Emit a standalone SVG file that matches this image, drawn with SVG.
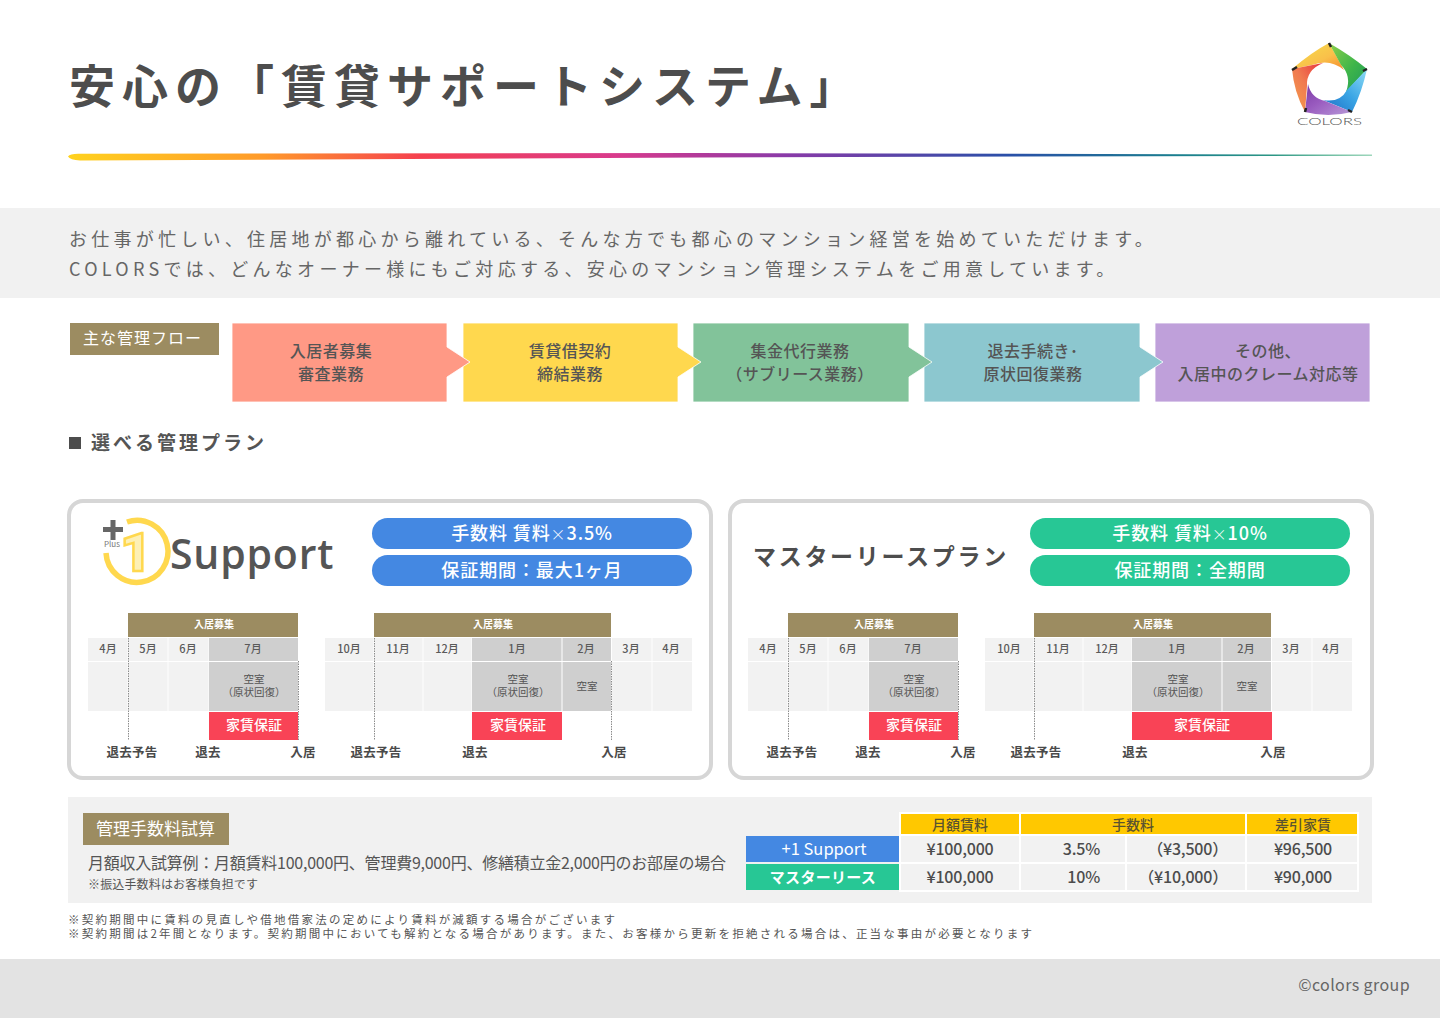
<svg xmlns="http://www.w3.org/2000/svg" width="1440" height="1018" viewBox="0 0 1440 1018">
<style>
text{font-family:"Noto Sans CJK JP","Noto Sans",sans-serif}
.c{text-anchor:middle}
.r{text-anchor:end}
.brown{fill:#9c8c61}
.cell{fill:#f2f2f2}
.dark{fill:#cfcfcf}
.red{fill:#f94356}
.mon{font-size:11px;font-weight:500;fill:#5a5a5a;text-anchor:middle}
.rec{font-size:10px;font-weight:700;fill:#fff;text-anchor:middle}
.vac{font-size:10.5px;fill:#555;text-anchor:middle}
.gua{font-size:14px;font-weight:500;fill:#fff;text-anchor:middle}
.ev{font-size:12.5px;font-weight:700;fill:#4a4a4a;text-anchor:middle;letter-spacing:.2px}
.vl{stroke:#8c8c8c;stroke-width:1;stroke-dasharray:1.5 1;fill:none}
.pill{font-size:18px;font-weight:500;fill:#fff;text-anchor:middle;letter-spacing:.9px}
.x{font-size:15px;font-weight:300}
.flow{font-size:16px;font-weight:500;fill:#555;text-anchor:middle;letter-spacing:.5px}
.fb{stroke:#fff;stroke-width:.8}
.card{fill:#fff;stroke:#d6d6d6;stroke-width:4}
.th{font-size:14px;font-weight:500;fill:#5a5330;text-anchor:middle}
.td{font-size:16px;font-weight:500;fill:#4c4c4c;letter-spacing:-.2px}
.note{font-size:11.5px;fill:#555;letter-spacing:2.24px}
</style>
<defs>
<linearGradient id="rainbow" x1="68" y1="0" x2="1372" y2="0" gradientUnits="userSpaceOnUse">
<stop offset="0" stop-color="#ffd21e"/><stop offset=".15" stop-color="#ff9a2a"/><stop offset=".27" stop-color="#f5404f"/><stop offset=".42" stop-color="#d93a8c"/><stop offset=".55" stop-color="#8a3aa8"/><stop offset=".72" stop-color="#2a4fa8"/><stop offset=".85" stop-color="#1b7f8f"/><stop offset="1" stop-color="#3fae7a"/>
</linearGradient>
<linearGradient id="bY" x1="0" y1="0" x2="1" y2="1"><stop offset="0" stop-color="#f6e04a"/><stop offset=".6" stop-color="#f9c04a"/><stop offset="1" stop-color="#f58a2c"/></linearGradient>
<linearGradient id="bG" x1="0" y1="0" x2="1" y2="1"><stop offset="0" stop-color="#8ccf4a"/><stop offset=".55" stop-color="#3eb54a"/><stop offset="1" stop-color="#1f9a5a"/></linearGradient>
<linearGradient id="bB" x1="1" y1="0" x2="0" y2="1"><stop offset="0" stop-color="#8fdcf5"/><stop offset=".5" stop-color="#3aa5e5"/><stop offset="1" stop-color="#1c6cc4"/></linearGradient>
<linearGradient id="bP" x1="1" y1="1" x2="0" y2="0"><stop offset="0" stop-color="#b89ad8"/><stop offset=".55" stop-color="#9a5cc0"/><stop offset="1" stop-color="#7c3aa5"/></linearGradient>
<linearGradient id="bR" x1="0" y1="1" x2="1" y2="0"><stop offset="0" stop-color="#f5a04a"/><stop offset=".5" stop-color="#f07a50"/><stop offset="1" stop-color="#e8323c"/></linearGradient>
</defs>
<rect width="1440" height="1018" fill="#fff"/>

<g id="title">
<text x="69" y="103" font-size="46" font-weight="700" fill="#4d4d4d" letter-spacing="7">安心の「賃貸サポートシステム」</text>
<path d="M68 156.500 Q70 153.500 80 153.800 L700 153 L1372 154.800 V155.600 L700 157.500 L80 160.500 Q70 160 68 156.500Z" fill="url(#rainbow)"/>
</g>

<g id="logo">
<path d="M1292 69 Q1312 52 1329 43 L1344 70 Q1330 58 1312 65Z" fill="url(#bY)"/>
<path d="M1329 43 Q1350 55 1367 69 L1346 92 Q1352 76 1341 65Z" fill="url(#bG)"/>
<path d="M1367 69 Q1362 92 1352 112 L1323 100 Q1340 103 1347 90Z" fill="url(#bB)"/>
<path d="M1352 112 Q1328 118 1305 112 L1308 84 Q1311 98 1325 101Z" fill="url(#bP)"/>
<path d="M1305 112 Q1294 92 1292 69 L1323 63 Q1306 70 1307 86Z" fill="url(#bR)"/>
<path d="M1292 70 L1297 67M1329 43 L1331 47M1367 69 L1363 71M1352 112 L1348 110M1305 112 L1306 108" stroke="#222" stroke-width="2.500"/>
<text x="1297" y="125" font-size="9" font-weight="300" fill="#555" textLength="65" lengthAdjust="spacingAndGlyphs" style="font-family:Lato,sans-serif">COLORS</text>
</g>

<g id="intro">
<rect y="208" width="1440" height="90" fill="#f1f1f1"/>
<text x="69" y="245.500" font-size="18" fill="#666" letter-spacing="4.25">お仕事が忙しい、住居地が都心から離れている、そんな方でも都心のマンション経営を始めていただけます。</text>
<text x="69" y="276" font-size="18" fill="#666" letter-spacing="4.28">COLORSでは、どんなオーナー様にもご対応する、安心のマンション管理システムをご用意しています。</text>
</g>

<g id="flow-label">
<rect class="brown" x="70" y="323" width="149" height="32"/>
<text x="83" y="344" font-size="16" fill="#fff" letter-spacing="1">主な管理フロー</text>
</g>
<g id="flow-5"><rect class="fb" x="1155" y="323" width="215" height="79" fill="#bfa0da"/><text class="flow" x="1268" y="357">その他、</text><text class="flow" x="1268" y="380">入居中のクレーム対応等</text></g>
<g id="flow-4"><path class="fb" d="M924 323H1140V347L1163 362L1140 377V402H924Z" fill="#8cc7cf"/><text class="flow" x="1033" y="357">退去手続き･</text><text class="flow" x="1033" y="380">原状回復業務</text></g>
<g id="flow-3"><path class="fb" d="M693 323H909V347L932 362L909 377V402H693Z" fill="#82c39a"/><text class="flow" x="800" y="357">集金代行業務</text><text class="flow" x="800" y="380">（サブリース業務）</text></g>
<g id="flow-2"><path class="fb" d="M463 323H678V347L701 362L678 377V402H463Z" fill="#ffd84e"/><text class="flow" x="570" y="357">賃貸借契約</text><text class="flow" x="570" y="380">締結業務</text></g>
<g id="flow-1"><path class="fb" d="M232 323H447V347L470 362L447 377V402H232Z" fill="#ff9985"/><text class="flow" x="331" y="357">入居者募集</text><text class="flow" x="331" y="380">審査業務</text></g>

<g id="plans-heading">
<rect x="69" y="437" width="12" height="12" fill="#4d4d4d"/>
<text x="91" y="450" font-size="19" font-weight="700" fill="#555" letter-spacing="3">選べる管理プラン</text>
</g>

<g id="plan-plus1">
<rect class="card" x="69" y="501" width="642" height="277" rx="14"/>
<path d="M127 522 A31 31 0 1 1 106 553" fill="none" stroke="#ffd84e" stroke-width="5.500"/>
<text x="136" y="571" class="c" font-size="54" font-weight="900" fill="#fdf0b5" stroke="#ffd84e" stroke-width="2.500" style="font-family:Roboto,sans-serif">1</text>
<rect x="103" y="527" width="20" height="5" fill="#666"/><rect x="110.500" y="520" width="5" height="20" fill="#666"/>
<text x="112" y="547" class="c" font-size="8" fill="#777">Plus</text>
<text x="170" y="569" font-size="41" font-weight="600" fill="#555" letter-spacing=".8" style="font-family:'Open Sans',sans-serif">Support</text>
<rect x="372" y="518" width="320" height="31" rx="15.500" fill="#4488e2"/>
<rect x="372" y="555" width="320" height="31" rx="15.500" fill="#4488e2"/>
<text class="pill" x="532" y="540">手数料 賃料<tspan class="x">×</tspan>3.5%</text>
<text class="pill" x="532" y="577">保証期間：最大1ヶ月</text>

<rect class="brown" x="128" y="613" width="170" height="24"/><text class="rec" x="214" y="628">入居募集</text>
<rect class="cell" x="88" y="638" width="39.500" height="23"/><rect class="cell" x="128.500" y="638" width="39" height="23"/><rect class="cell" x="168.500" y="638" width="40" height="23"/><rect class="dark" x="209" y="638" width="89" height="23"/>
<rect class="cell" x="88" y="662" width="39.500" height="49"/><rect class="cell" x="128.500" y="662" width="39" height="49"/><rect class="cell" x="168.500" y="662" width="40" height="49"/><rect class="dark" x="209" y="662" width="89" height="49"/>
<text class="mon" x="108" y="653">4月</text><text class="mon" x="148" y="653">5月</text><text class="mon" x="188" y="653">6月</text><text class="mon" x="253" y="653">7月</text>
<text class="vac" x="254" y="683">空室</text><text class="vac" x="254" y="696">（原状回復）</text>
<rect class="red" x="209" y="712" width="89" height="28"/><text class="gua" x="254" y="730">家賃保証</text>
<path class="vl" d="M128.500 638V740M298.500 661V740"/>
<text class="ev" x="132" y="756.500">退去予告</text><text class="ev" x="208" y="756.500">退去</text><text class="ev" x="303" y="756.500">入居</text>

<rect class="brown" x="374" y="613" width="237" height="24"/><text class="rec" x="493" y="628">入居募集</text>
<rect class="cell" x="325" y="638" width="48.500" height="23"/><rect class="cell" x="374.500" y="638" width="48" height="23"/><rect class="cell" x="423.500" y="638" width="48" height="23"/><rect class="dark" x="472" y="638" width="89.500" height="23"/><rect class="dark" x="562.500" y="638" width="48.500" height="23"/><rect class="cell" x="612" y="638" width="39.500" height="23"/><rect class="cell" x="652.500" y="638" width="39.500" height="23"/>
<rect class="cell" x="325" y="662" width="48.500" height="49"/><rect class="cell" x="374.500" y="662" width="48" height="49"/><rect class="cell" x="423.500" y="662" width="48" height="49"/><rect class="dark" x="472" y="662" width="89.500" height="49"/><rect class="dark" x="562.500" y="662" width="48.500" height="49"/><rect class="cell" x="612" y="662" width="39.500" height="49"/><rect class="cell" x="652.500" y="662" width="39.500" height="49"/>
<text class="mon" x="349" y="653">10月</text><text class="mon" x="398" y="653">11月</text><text class="mon" x="447" y="653">12月</text><text class="mon" x="517" y="653">1月</text><text class="mon" x="586" y="653">2月</text><text class="mon" x="631" y="653">3月</text><text class="mon" x="671" y="653">4月</text>
<text class="vac" x="518" y="683">空室</text><text class="vac" x="518" y="696">（原状回復）</text><text class="vac" x="587" y="690">空室</text>
<rect class="red" x="472" y="712" width="90" height="28"/><text class="gua" x="518" y="730">家賃保証</text>
<path class="vl" d="M374.500 638V740M611.500 661V740"/>
<text class="ev" x="376" y="756.500">退去予告</text><text class="ev" x="475" y="756.500">退去</text><text class="ev" x="614" y="756.500">入居</text>
</g>

<g id="plan-master">
<rect class="card" x="730" y="501" width="642" height="277" rx="14"/>
<text x="753" y="565" font-size="23" font-weight="700" fill="#4d4d4d" letter-spacing="2.700">マスターリースプラン</text>
<rect x="1030" y="518" width="320" height="31" rx="15.500" fill="#27c795"/>
<rect x="1030" y="555" width="320" height="31" rx="15.500" fill="#27c795"/>
<text class="pill" x="1190" y="540">手数料 賃料<tspan class="x">×</tspan>10%</text>
<text class="pill" x="1190" y="577">保証期間：全期間</text>

<rect class="brown" x="788" y="613" width="170" height="24"/><text class="rec" x="874" y="628">入居募集</text>
<rect class="cell" x="748" y="638" width="39.500" height="23"/><rect class="cell" x="788.500" y="638" width="39" height="23"/><rect class="cell" x="828.500" y="638" width="40" height="23"/><rect class="dark" x="869" y="638" width="89" height="23"/>
<rect class="cell" x="748" y="662" width="39.500" height="49"/><rect class="cell" x="788.500" y="662" width="39" height="49"/><rect class="cell" x="828.500" y="662" width="40" height="49"/><rect class="dark" x="869" y="662" width="89" height="49"/>
<text class="mon" x="768" y="653">4月</text><text class="mon" x="808" y="653">5月</text><text class="mon" x="848" y="653">6月</text><text class="mon" x="913" y="653">7月</text>
<text class="vac" x="914" y="683">空室</text><text class="vac" x="914" y="696">（原状回復）</text>
<rect class="red" x="869" y="712" width="89" height="28"/><text class="gua" x="914" y="730">家賃保証</text>
<path class="vl" d="M788.500 638V740M958.500 661V740"/>
<text class="ev" x="792" y="756.500">退去予告</text><text class="ev" x="868" y="756.500">退去</text><text class="ev" x="963" y="756.500">入居</text>

<rect class="brown" x="1034" y="613" width="237" height="24"/><text class="rec" x="1153" y="628">入居募集</text>
<rect class="cell" x="985" y="638" width="48.500" height="23"/><rect class="cell" x="1034.500" y="638" width="48" height="23"/><rect class="cell" x="1083.500" y="638" width="48" height="23"/><rect class="dark" x="1132" y="638" width="89.500" height="23"/><rect class="dark" x="1222.500" y="638" width="48.500" height="23"/><rect class="cell" x="1272" y="638" width="39.500" height="23"/><rect class="cell" x="1312.500" y="638" width="39.500" height="23"/>
<rect class="cell" x="985" y="662" width="48.500" height="49"/><rect class="cell" x="1034.500" y="662" width="48" height="49"/><rect class="cell" x="1083.500" y="662" width="48" height="49"/><rect class="dark" x="1132" y="662" width="89.500" height="49"/><rect class="dark" x="1222.500" y="662" width="48.500" height="49"/><rect class="cell" x="1272" y="662" width="39.500" height="49"/><rect class="cell" x="1312.500" y="662" width="39.500" height="49"/>
<text class="mon" x="1009" y="653">10月</text><text class="mon" x="1058" y="653">11月</text><text class="mon" x="1107" y="653">12月</text><text class="mon" x="1177" y="653">1月</text><text class="mon" x="1246" y="653">2月</text><text class="mon" x="1291" y="653">3月</text><text class="mon" x="1331" y="653">4月</text>
<text class="vac" x="1178" y="683">空室</text><text class="vac" x="1178" y="696">（原状回復）</text><text class="vac" x="1247" y="690">空室</text>
<rect class="red" x="1132" y="712" width="140" height="28"/><text class="gua" x="1202" y="730">家賃保証</text>
<path class="vl" d="M1034.500 638V740"/>
<text class="ev" x="1036" y="756.500">退去予告</text><text class="ev" x="1135" y="756.500">退去</text><text class="ev" x="1273" y="756.500">入居</text>
</g>

<g id="fee-panel">
<rect x="68" y="797" width="1304" height="106" fill="#f1f1f1"/>
<rect class="brown" x="83" y="813" width="146" height="32"/>
<text x="96" y="834.500" font-size="17" fill="#fff">管理手数料試算</text>
<text x="88" y="869" font-size="16" fill="#555" textLength="638">月額収入試算例：月額賃料100,000円、管理費9,000円、修繕積立金2,000円のお部屋の場合</text>
<text x="88" y="889" font-size="12" fill="#555" letter-spacing=".15">※振込手数料はお客様負担です</text>
<rect x="899" y="812" width="460" height="80" fill="#fff"/>
<rect x="901" y="814" width="118" height="20" fill="#ffc800"/><rect x="1021" y="814" width="224" height="20" fill="#ffc800"/><rect x="1247" y="814" width="110" height="20" fill="#ffc800"/>
<text class="th" x="960" y="830">月額賃料</text><text class="th" x="1133" y="830">手数料</text><text class="th" x="1303" y="830">差引家賃</text>
<rect x="746" y="836" width="153" height="26" fill="#4488e2"/><rect x="746" y="864" width="153" height="26" fill="#27c795"/>
<text x="824" y="855" class="c" font-size="16.500" fill="#fff">+1 Support</text>
<text x="823" y="883" class="c" font-size="15" font-weight="700" fill="#fff" letter-spacing=".3">マスターリース</text>
<rect class="cell" x="901" y="836" width="118" height="26"/><rect class="cell" x="1021" y="836" width="104" height="26"/><rect class="cell" x="1127" y="836" width="118" height="26"/><rect class="cell" x="1247" y="836" width="110" height="26"/>
<rect class="cell" x="901" y="864" width="118" height="26"/><rect class="cell" x="1021" y="864" width="104" height="26"/><rect class="cell" x="1127" y="864" width="118" height="26"/><rect class="cell" x="1247" y="864" width="110" height="26"/>
<text class="td c" x="960" y="855">¥100,000</text><text class="td r" x="1100" y="855">3.5%</text><text class="td r" x="1228" y="855">（¥3,500）</text><text class="td c" x="1303" y="855">¥96,500</text>
<text class="td c" x="960" y="883">¥100,000</text><text class="td r" x="1100" y="883">10%</text><text class="td r" x="1228" y="883">（¥10,000）</text><text class="td c" x="1303" y="883">¥90,000</text>
</g>

<g id="notes">
<text class="note" x="68" y="924">※契約期間中に賃料の見直しや借地借家法の定めにより賃料が減額する場合がございます</text>
<text class="note" x="68" y="938">※契約期間は2年間となります。契約期間中においても解約となる場合があります。また、お客様から更新を拒絶される場合は、正当な事由が必要となります</text>
</g>

<g id="footer">
<rect y="959" width="1440" height="59" fill="#e3e3e3"/>
<text class="r" x="1410" y="991" font-size="16" fill="#666" letter-spacing=".4">©colors group</text>
</g>
</svg>
